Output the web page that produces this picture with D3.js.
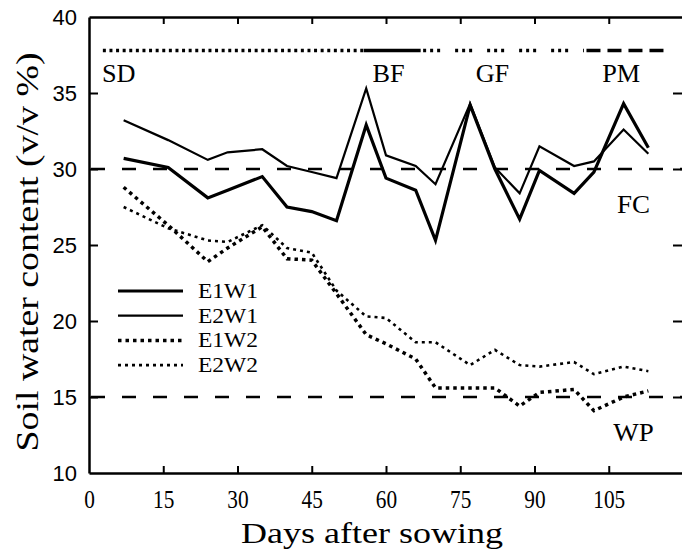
<html>
<head>
  <meta charset="utf-8" />
  <script src="https://cdnjs.cloudflare.com/ajax/libs/d3/7.8.5/d3.min.js"></script>
  <style>
    body { margin: 0; background: #fff; }
    .axis path.domain { stroke: #000; stroke-width: 2.5; }
    .axis .tick line { stroke: #000; stroke-width: 2; }
    .xaxis .tick text { font-family: "Liberation Serif", serif; font-size: 26px; fill: #000; }
    .yaxis .tick text { font-family: "Liberation Sans", sans-serif; font-size: 22px; fill: #000; }
    .lbl { font-family: "Liberation Serif", serif; fill: #000; }
  </style>
</head>
<body>
  <svg width="682" height="553"></svg>
  <script>

  // sampling days (days after sowing)
  var days = [7, 16, 24, 28, 35, 40, 45, 50, 56, 60, 66, 70, 77, 82, 87, 91, 98, 102, 108, 113]

  var seriesNames = ["E1W1", "E2W1", "E1W2", "E2W2"]
  var e1w1 = [30.7, 30.1, 28.1, 28.6, 29.5, 27.5, 27.2, 26.6, 32.9, 29.4, 28.6, 25.3, 34.2, 30.0, 26.7, 29.9, 28.4, 29.8, 34.3, 31.4]
  var e2w1 = [33.2, 31.9, 30.6, 31.1, 31.3, 30.2, 29.8, 29.4, 35.3, 30.9, 30.2, 29.0, 34.3, 30.1, 28.4, 31.5, 30.2, 30.5, 32.6, 31.0]
  var e1w2 = [28.8, 26.3, 23.9, 24.8, 26.2, 24.1, 24.0, 21.8, 19.1, 18.5, 17.5, 15.6, 15.6, 15.6, 14.4, 15.3, 15.5, 14.1, 15.0, 15.4]
  var e2w2 = [27.5, 26.1, 25.3, 25.2, 26.3, 24.8, 24.5, 22.0, 20.3, 20.2, 18.6, 18.6, 17.1, 18.1, 17.1, 17.0, 17.3, 16.5, 17.0, 16.7]

  var xTicks = [0, 15, 30, 45, 60, 75, 90, 105]
  var yTicks = [10, 15, 20, 25, 30, 35, 40]

  // field capacity / wilting point
  var refNames = ["FC", "WP"]
  var refValues = [30, 15]

  // growth stage bar
  var stageLevel = 37.8
  var stageNames = ["SD", "BF", "GF", "PM"]
  var stageLabelDays = [6, 60.5, 81.5, 107.5]
  var stageSpans = [[2.8, 55.5], [55.5, 67], [67.5, 100], [100.5, 116.5]]

  var svg = d3.select("svg")
  var x = d3.scaleLinear().domain([0, 120]).range([89, 683])
  var y = d3.scaleLinear().domain([10, 40]).range([473, 17])

  // wide serif look: Times stretched sideways
  function label(px, py, txt, size, sx, rot) {
    return svg.append("text").attr("class", "lbl")
      .attr("transform", "translate(" + px + "," + py + ")" + (rot ? " rotate(" + rot + ")" : "") + " scale(" + sx + ",1)")
      .attr("text-anchor", "middle")
      .style("font-size", size + "px")
      .text(txt)
  }

  // axes, ticks pointing inward
  svg.append("g").attr("class", "axis xaxis")
    .attr("transform", "translate(0,473)")
    .call(d3.axisBottom(x).tickValues(xTicks).tickSize(-7).tickSizeOuter(0).tickPadding(17))
    .selectAll(".tick line").filter(d => d === 0).remove()
  svg.selectAll(".xaxis .tick text").attr("transform", "scale(0.82,1)")

  svg.append("g").attr("class", "axis")
    .attr("transform", "translate(0,17)")
    .call(d3.axisTop(x).tickValues(xTicks.slice(1)).tickSize(-7).tickSizeOuter(0).tickFormat(""))

  svg.append("g").attr("class", "axis yaxis")
    .attr("transform", "translate(89,0)")
    .call(d3.axisLeft(y).tickValues(yTicks).tickSize(-9).tickSizeOuter(0).tickPadding(12))
    .selectAll(".tick line").filter(d => d === 10 || d === 40).remove()

  svg.append("g").attr("class", "axis")
    .attr("transform", "translate(683,0)")
    .call(d3.axisRight(y).tickValues(yTicks.slice(1, -1)).tickSize(-10).tickSizeOuter(0).tickFormat(""))

  // FC and WP lines
  refValues.forEach((v, i) => {
    svg.append("line")
      .attr("x1", x(0) + 2).attr("x2", x(120))
      .attr("y1", y(v)).attr("y2", y(v))
      .attr("stroke", "#000").attr("stroke-width", 2.5)
      .attr("stroke-dasharray", "14,17")
    label(x(110), y(v) + 44, refNames[i], 25, 1.08)
  })

  // growth stage bar
  var stageDash = ["3,3.6", null, "3,4,3,4,3,15", "14,7"]
  stageSpans.forEach((s, i) => {
    svg.append("line")
      .attr("x1", x(s[0])).attr("x2", x(s[1]))
      .attr("y1", y(stageLevel)).attr("y2", y(stageLevel))
      .attr("stroke", "#000").attr("stroke-width", 3.5)
      .attr("stroke-dasharray", stageDash[i])
  })
  stageNames.forEach((n, i) => {
    label(x(stageLabelDays[i]), 82, n, 25, 1.05)
  })

  // series
  var values = [e1w1, e2w1, e1w2, e2w2]
  var widths = [3.2, 2.2, 3.5, 2.6]
  var dashes = [null, null, "3.5,4", "3,4"]
  var line = d3.line().x(d => x(d[0])).y(d => y(d[1]))

  values.forEach((vals, i) => {
    svg.append("path")
      .attr("d", line(days.map((d, j) => [d, vals[j]])))
      .attr("fill", "none")
      .attr("stroke", "#000")
      .attr("stroke-width", widths[i])
      .attr("stroke-linejoin", "miter")
      .attr("stroke-dasharray", dashes[i])
  })

  // legend
  seriesNames.forEach((n, i) => {
    var ly = 291 + i * 24.7
    svg.append("line")
      .attr("x1", 118).attr("x2", 183).attr("y1", ly).attr("y2", ly)
      .attr("stroke", "#000").attr("stroke-width", widths[i])
      .attr("stroke-dasharray", dashes[i])
    label(228, ly + 7, n, 21, 1.12)
  })

  // axis titles
  label(372, 543, "Days after sowing", 30, 1.2)
  label(38, 252, "Soil water content (v/v %)", 31, 1.22, -90)

  </script>
</body>
</html>
